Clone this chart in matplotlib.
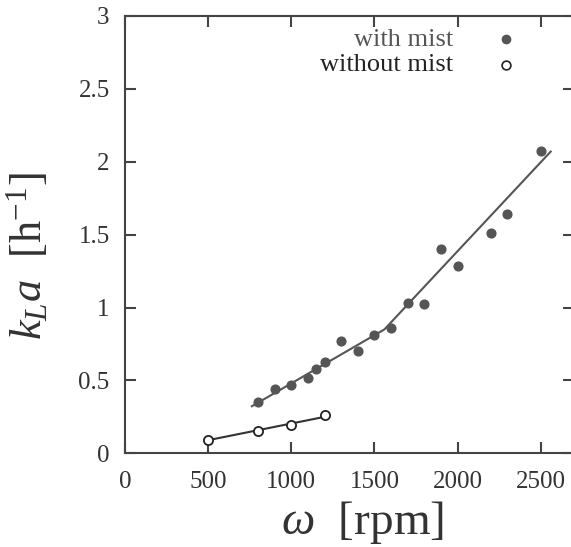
import matplotlib
matplotlib.use("Agg")
import matplotlib.pyplot as plt

plt.rcParams['font.family'] = ['Liberation Serif', 'DejaVu Serif']
plt.rcParams['mathtext.fontset'] = 'custom'
plt.rcParams['mathtext.rm'] = 'Liberation Serif'
plt.rcParams['mathtext.it'] = 'Liberation Serif:italic'

# Data
rpm_mist = [800, 900, 1000, 1100, 1150, 1200, 1300, 1400, 1500, 1600, 1700, 1800,
            1900, 2000, 2200, 2300, 2500]
kla_mist = [0.35, 0.44, 0.47, 0.52, 0.58, 0.625, 0.77, 0.70, 0.815, 0.86, 1.03, 1.025,
            1.40, 1.285, 1.51, 1.64, 2.075]
rpm_nomist = [500, 800, 1000, 1200]
kla_nomist = [0.09, 0.153, 0.192, 0.26]

fit_mist_x = [763, 1560, 2560]
fit_mist_y = [0.323, 0.85, 2.07]
fit_nomist_x = [500, 1200]
fit_nomist_y = [0.09, 0.25]

xticks = [0, 500, 1000, 1500, 2000, 2500]
yticks = [0, 0.5, 1, 1.5, 2, 2.5, 3]
ytick_labels = ['0', '0.5', '1', '1.5', '2', '2.5', '3']

W, H = 571, 547
fig = plt.figure(figsize=(W / 100, H / 100), dpi=100)
ax = fig.add_axes([125 / W, (H - 453.3) / H, (574 - 125) / W, (453.3 - 16) / H])

dark = '#444444'
ax.plot(fit_mist_x, fit_mist_y, color='#555555', lw=1.5, zorder=2)
ax.plot(fit_nomist_x, fit_nomist_y, color='#333333', lw=1.5, zorder=2)
ax.plot(rpm_mist, kla_mist, 'o', color='#555555', ms=6.3, mec='#555555', zorder=3)
ax.plot(rpm_nomist, kla_nomist, 'o', mfc='white', mec='#222222', mew=1.3, ms=6.6, zorder=3)

ax.set_xlim(0, 2700)
ax.set_ylim(0, 3)
ax.set_xticks(xticks)
ax.set_xticklabels([str(v) for v in xticks])
ax.set_yticks(yticks)
ax.set_yticklabels(ytick_labels)

for s in ax.spines.values():
    s.set_color(dark)
    s.set_linewidth(1.5)
ax.tick_params(direction='in', length=8, width=1.5, color=dark, labelsize=18,
               labelcolor='#333333', top=True, right=True)
ax.tick_params(axis='x', pad=13)
ax.tick_params(axis='y', pad=11)

# legend drawn as text + markers in axes coords
ax.text(0.730, 0.946, 'with mist', transform=ax.transAxes, ha='right', va='center',
        fontsize=19, color='#555555')
ax.text(0.730, 0.888, 'without mist', transform=ax.transAxes, ha='right', va='center',
        fontsize=19, color='#222222')
ax.plot([0.849], [0.948], 'o', transform=ax.transAxes, color='#555555', ms=6, clip_on=False)
ax.plot([0.849], [0.889], 'o', transform=ax.transAxes, mfc='white', mec='#222222',
        mew=1.2, ms=6.3, clip_on=False)

ax.set_xlabel(r'$\omega$  [rpm]', fontsize=34, color='#333333', labelpad=4)
ax.xaxis.label.set_x(0.528)
ax.set_ylabel(r'$k_{L}a$  [h$^{\mathrm{-1}}$]', fontsize=32, color='#333333')
ax.yaxis.set_label_coords(-0.167, 0.451)

fig.savefig('out.png', dpi=100)
